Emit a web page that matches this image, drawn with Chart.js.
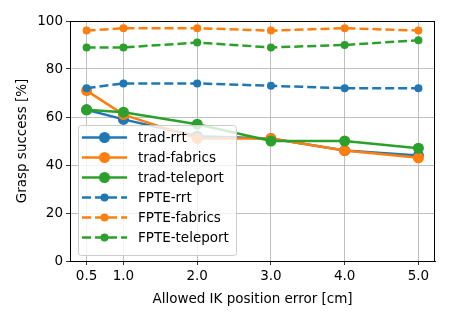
<!DOCTYPE html>
<html>
<head>
<meta charset="utf-8">
<script src="https://cdn.jsdelivr.net/npm/chart.js@4.4.0/dist/chart.umd.min.js"></script>
<style>
  html, body { margin: 0; padding: 0; background: #fff; }
  #wrap { width: 450px; height: 320px; }
</style>
</head>
<body>
<div id="wrap"><canvas id="graspChart" width="450" height="320"></canvas></div>
<script>
// allowed IK position error [cm]
var errors = [0.5, 1.0, 2.0, 3.0, 4.0, 5.0];

var tradRrt = [63, 59, 52, 51, 46, 44];
var tradFabrics = [71, 61, 51, 51, 46, 43];
var tradTeleport = [63, 62, 57, 50, 50, 47];
var fpteRrt = [72, 74, 74, 73, 72, 72];
var fpteFabrics = [96, 97, 97, 96, 97, 96];
var fpteTeleport = [89, 89, 91, 89, 90, 92];

var yTicks = [0, 20, 40, 60, 80, 100];

var BLUE = '#1f77b4', ORANGE = '#ff7f0e', GREEN = '#2ca02c';
var FONT = 'DejaVu Sans';

function pts(vals) {
    return vals.map(function(v, i) { return {x: errors[i], y: v}; });
}

function series(label, vals, color, dashed, idx) {
    return {
        label: label,
        data: pts(vals),
        borderColor: color,
        backgroundColor: color,
        pointBackgroundColor: color,
        pointBorderColor: color,
        borderWidth: 2.5,
        borderDash: dashed ? [9, 4] : [],
        pointRadius: dashed ? 4 : 5.5,
        pointBorderWidth: 0,
        tension: 0,
        fill: false,
        order: 5 - idx
    };
}

var datasets = [
    series('trad-rrt', tradRrt, BLUE, false, 0),
    series('trad-fabrics', tradFabrics, ORANGE, false, 1),
    series('trad-teleport', tradTeleport, GREEN, false, 2),
    series('FPTE-rrt', fpteRrt, BLUE, true, 3),
    series('FPTE-fabrics', fpteFabrics, ORANGE, true, 4),
    series('FPTE-teleport', fpteTeleport, GREEN, true, 5)
];

// frame on top/right + legend inside the axes, like matplotlib
var framePlugin = {
    id: 'frameAndLegend',
    afterDraw: function(chart) {
        var c = chart.ctx, a = chart.chartArea;
        c.save();
        c.strokeStyle = '#000';
        c.lineWidth = 1;
        c.strokeRect(a.left + 0.5, a.top + 0.5, a.right - a.left - 1, a.bottom - a.top);

        // legend box
        var bx = 78.5, by = 125.5, bw = 158, bh = 130, r = 3;
        c.beginPath();
        c.moveTo(bx + r, by);
        c.lineTo(bx + bw - r, by);
        c.quadraticCurveTo(bx + bw, by, bx + bw, by + r);
        c.lineTo(bx + bw, by + bh - r);
        c.quadraticCurveTo(bx + bw, by + bh, bx + bw - r, by + bh);
        c.lineTo(bx + r, by + bh);
        c.quadraticCurveTo(bx, by + bh, bx, by + bh - r);
        c.lineTo(bx, by + r);
        c.quadraticCurveTo(bx, by, bx + r, by);
        c.closePath();
        c.fillStyle = 'rgba(255,255,255,0.8)';
        c.fill();
        c.strokeStyle = '#cccccc';
        c.lineWidth = 1;
        c.stroke();

        chart.data.datasets.forEach(function(ds, i) {
            var y = 137.5 + 20 * i;
            c.beginPath();
            c.setLineDash(ds.borderDash);
            c.strokeStyle = ds.borderColor;
            c.lineWidth = ds.borderWidth;
            c.moveTo(82, y);
            c.lineTo(127, y);
            c.stroke();
            c.setLineDash([]);
            c.beginPath();
            c.arc(104.5, y, ds.pointRadius, 0, Math.PI * 2);
            c.fillStyle = ds.borderColor;
            c.fill();
            c.fillStyle = '#000';
            c.font = '13.5px "' + FONT + '"';
            c.textBaseline = 'middle';
            c.textAlign = 'left';
            c.fillText(ds.label, 138, y + 1);
        });
        c.restore();
    }
};

var ctx = document.getElementById('graspChart').getContext('2d');
var myChart = new Chart(ctx, {
    type: 'line',
    data: { datasets: datasets },
    plugins: [framePlugin],
    options: {
        responsive: false,
        animation: false,
        layout: { padding: { top: 21, right: 15, bottom: 12, left: 0 } },
        plugins: {
            legend: { display: false },
            tooltip: { enabled: false }
        },
        scales: {
            x: {
                type: 'linear',
                min: 0.275,
                max: 5.225,
                afterBuildTicks: function(scale) {
                    scale.ticks = errors.map(function(v) { return {value: v}; });
                },
                afterFit: function(scale) { scale.height = 47; },
                grid: { color: '#b0b0b0', lineWidth: 0.8, tickColor: '#000', tickLength: 4, drawOnChartArea: true },
                border: { color: '#000', width: 1 },
                ticks: {
                    color: '#000',
                    padding: 3,
                    maxRotation: 0,
                    autoSkip: false,
                    font: { family: FONT, size: 13.5 },
                    callback: function(v) { return Number(v).toFixed(1); }
                },
                title: {
                    display: true,
                    text: 'Allowed IK position error [cm]',
                    color: '#000',
                    font: { family: FONT, size: 13.5 },
                    padding: { top: 4, bottom: 0 }
                }
            },
            y: {
                min: 0,
                max: 100,
                afterBuildTicks: function(scale) {
                    scale.ticks = yTicks.map(function(v) { return {value: v}; });
                },
                afterFit: function(scale) { scale.width = 70; },
                grid: { color: '#b0b0b0', lineWidth: 0.8, tickColor: '#000', tickLength: 4 },
                border: { color: '#000', width: 1 },
                ticks: {
                    color: '#000',
                    padding: 3,
                    font: { family: FONT, size: 13.5 }
                },
                title: {
                    display: true,
                    text: 'Grasp success [%]',
                    color: '#000',
                    font: { family: FONT, size: 13.5 },
                    padding: { top: 14, bottom: 4 }
                }
            }
        }
    }
});
</script>
</body>
</html>
